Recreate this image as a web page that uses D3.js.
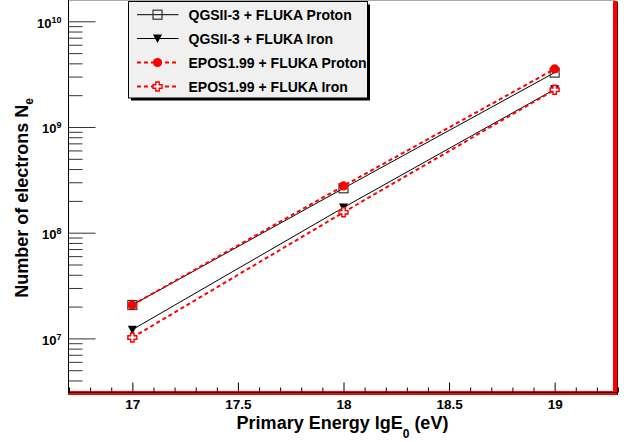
<!DOCTYPE html>
<html>
<head>
<meta charset="utf-8">
<script src="https://cdn.jsdelivr.net/npm/d3@7"></script>
<style>
  html, body { margin: 0; padding: 0; background: #fff; }
  svg { display: block; font-family: "Liberation Sans", Arial, sans-serif; font-weight: bold; }
</style>
</head>
<body>
<svg id="chart" width="627" height="442"></svg>
<script>
// ---- data ----
const energies   = [17, 18, 19];
const qgsProton  = [2.07e7, 2.63e8, 3.27e9];
const qgsIron    = [1.21e7, 1.73e8, 2.27e9];
const eposProton = [2.07e7, 2.77e8, 3.54e9];
const eposIron   = [1.02e7, 1.56e8, 2.25e9];
const seriesNames = ["QGSII-3 + FLUKA Proton", "QGSII-3 + FLUKA Iron",
                     "EPOS1.99 + FLUKA Proton", "EPOS1.99 + FLUKA Iron"];
const xMajorTicks = [17, 17.5, 18, 18.5, 19];
const xDomain = [16.7, 19.3];
const yDomain = [3.077e6, 1.573e10];

// ---- layout ----
const svg = d3.select("#chart");
const L = 68.5, R = 617, T = 0.5, B = 392.5;
const x = d3.scaleLinear().domain(xDomain).range([69, 618]);
const y = d3.scaleLog().domain(yDomain).range([B, T]);

// frame decorations
svg.append("line").attr("x1", L).attr("x2", 615).attr("y1", T).attr("y2", T)
  .attr("stroke", "#aaa").attr("stroke-width", 1);
svg.append("rect").attr("x", 613).attr("y", 1).attr("width", 4.5).attr("height", 394).attr("fill", "#f00");
svg.append("rect").attr("x", 68).attr("y", 391).attr("width", 549.5).attr("height", 4).attr("fill", "#f00");
svg.append("line").attr("x1", 617.5).attr("x2", 617.5).attr("y1", 2).attr("y2", 395)
  .attr("stroke", "#600").attr("stroke-width", 1);

// x axis
const xMinor = d3.range(167, 194).map(v => v / 10).filter(v => !xMajorTicks.includes(v));
svg.append("g").attr("transform", `translate(0,${B})`)
  .call(d3.axisBottom(x).tickValues(xMinor).tickSize(-5).tickFormat(""))
  .call(g => g.select(".domain").remove())
  .call(g => g.selectAll("line").attr("stroke", "#000"));
svg.append("g").attr("transform", `translate(0,${B})`)
  .call(d3.axisBottom(x).tickValues(xMajorTicks).tickSize(-10).tickPadding(7)
        .tickFormat(d => String(d)))
  .call(g => g.select(".domain").remove())
  .call(g => g.selectAll("line").attr("stroke", "#000"))
  .call(g => g.selectAll("text").attr("font-size", "13.5px").attr("font-weight", "bold")
        .attr("font-family", "Liberation Sans, Arial, sans-serif").attr("fill", "#000"));
svg.append("line").attr("x1", L).attr("x2", 617).attr("y1", B).attr("y2", B)
  .attr("stroke", "#000").attr("stroke-width", 1);

// y axis
const yAll = y.ticks();
const isMajor = d => Math.abs(Math.log10(d) - Math.round(Math.log10(d))) < 1e-9;
svg.append("g").attr("transform", `translate(${L},0)`)
  .call(d3.axisLeft(y).tickValues(yAll.filter(d => !isMajor(d))).tickSize(-14).tickFormat(""))
  .call(g => g.select(".domain").remove())
  .call(g => g.selectAll("line").attr("stroke", "#333"));
svg.append("g").attr("transform", `translate(${L},0)`)
  .call(d3.axisLeft(y).tickValues(yAll.filter(isMajor)).tickSize(-27).tickPadding(7))
  .call(g => g.select(".domain").remove())
  .call(g => g.selectAll("line").attr("stroke", "#333"))
  .call(g => g.selectAll("text").each(function(d) {
      const t = d3.select(this);
      t.text(null).attr("font-size", "13px").attr("font-weight", "bold")
       .attr("font-family", "Liberation Sans, Arial, sans-serif").attr("fill", "#000").attr("dy", "0.45em");
      t.append("tspan").text("10");
      t.append("tspan").attr("dy", "-0.55em").attr("font-size", "9px").text(Math.round(Math.log10(d)));
  }));
svg.append("line").attr("x1", L).attr("x2", L).attr("y1", 0).attr("y2", 393)
  .attr("stroke", "#000").attr("stroke-width", 1);

// axis titles
const xt = svg.append("text").attr("x", 342.5).attr("y", 429).attr("text-anchor", "middle")
  .attr("font-size", "18px").attr("fill", "#000");
xt.append("tspan").text("Primary Energy lgE");
xt.append("tspan").attr("font-size", "12px").attr("dy", "9").text("0");
xt.append("tspan").attr("dy", "-9").text(" (eV)");

const yt = svg.append("text").attr("transform", "translate(28,198) rotate(-90)")
  .attr("text-anchor", "middle").attr("font-size", "18px").attr("fill", "#000");
yt.append("tspan").text("Number of electrons N");
yt.append("tspan").attr("font-size", "12px").attr("dy", "5").text("e");

// ---- series ----
const series = [
  { name: seriesNames[0], values: qgsProton,  color: "#000", dash: null,  width: 1, marker: "square" },
  { name: seriesNames[1], values: qgsIron,    color: "#000", dash: null,  width: 1, marker: "tri" },
  { name: seriesNames[2], values: eposProton, color: "#f00", dash: "4,3", width: 2, marker: "circle" },
  { name: seriesNames[3], values: eposIron,   color: "#f00", dash: "4,3", width: 2, marker: "cross" }
];

function drawMarker(g, type, cx, cy) {
  if (type === "square") {
    g.append("rect").attr("x", cx - 4.5).attr("y", cy - 4.5).attr("width", 9).attr("height", 9)
      .attr("fill", "none").attr("stroke", "#333").attr("stroke-width", 1.2);
  } else if (type === "tri") {
    g.append("path").attr("d", `M${cx - 4.5},${cy - 4} L${cx + 4.5},${cy - 4} L${cx},${cy + 4.5} Z`)
      .attr("fill", "#000");
  } else if (type === "circle") {
    g.append("circle").attr("cx", cx).attr("cy", cy).attr("r", 4.6).attr("fill", "#f00");
  } else if (type === "cross") {
    const a = 1.7, b = 4.5;
    const p = [[-a,-b],[a,-b],[a,-a],[b,-a],[b,a],[a,a],[a,b],[-a,b],[-a,a],[-b,a],[-b,-a],[-a,-a]];
    g.append("path").attr("d", "M" + p.map(q => `${cx + q[0]},${cy + q[1]}`).join("L") + "Z")
      .attr("fill", "#fff").attr("stroke", "#f00").attr("stroke-width", 1.4);
  }
}

const line = d3.line().x(d => x(d[0])).y(d => y(d[1]));
series.forEach(s => {
  const pts = energies.map((e, i) => [e, s.values[i]]);
  const g = svg.append("g");
  g.append("path").attr("d", line(pts)).attr("fill", "none").attr("stroke", s.color)
    .attr("stroke-width", s.width).attr("stroke-dasharray", s.dash);
  pts.forEach(p => drawMarker(g, s.marker, x(p[0]), y(p[1])));
});

// ---- legend ----
const lg = svg.append("g");
lg.append("rect").attr("x", 131).attr("y", 4.5).attr("width", 239).attr("height", 96).attr("fill", "#000");
lg.append("rect").attr("x", 128.5).attr("y", 1.5).attr("width", 239).attr("height", 96.5)
  .attr("fill", "#f0f0f0").attr("stroke", "#000").attr("stroke-width", 1);
const rowY = [14.7, 38.5, 62.5, 86.5];
series.forEach((s, i) => {
  const ry = rowY[i];
  lg.append("line").attr("x1", 137).attr("x2", 178.5).attr("y1", ry).attr("y2", ry)
    .attr("stroke", s.color).attr("stroke-width", s.width).attr("stroke-dasharray", s.dash);
  drawMarker(lg, s.marker, 157.5, ry);
  lg.append("text").attr("x", 188.5).attr("y", ry).attr("dy", "0.36em")
    .attr("font-size", "14px").attr("fill", "#000").text(s.name);
});
</script>
</body>
</html>
